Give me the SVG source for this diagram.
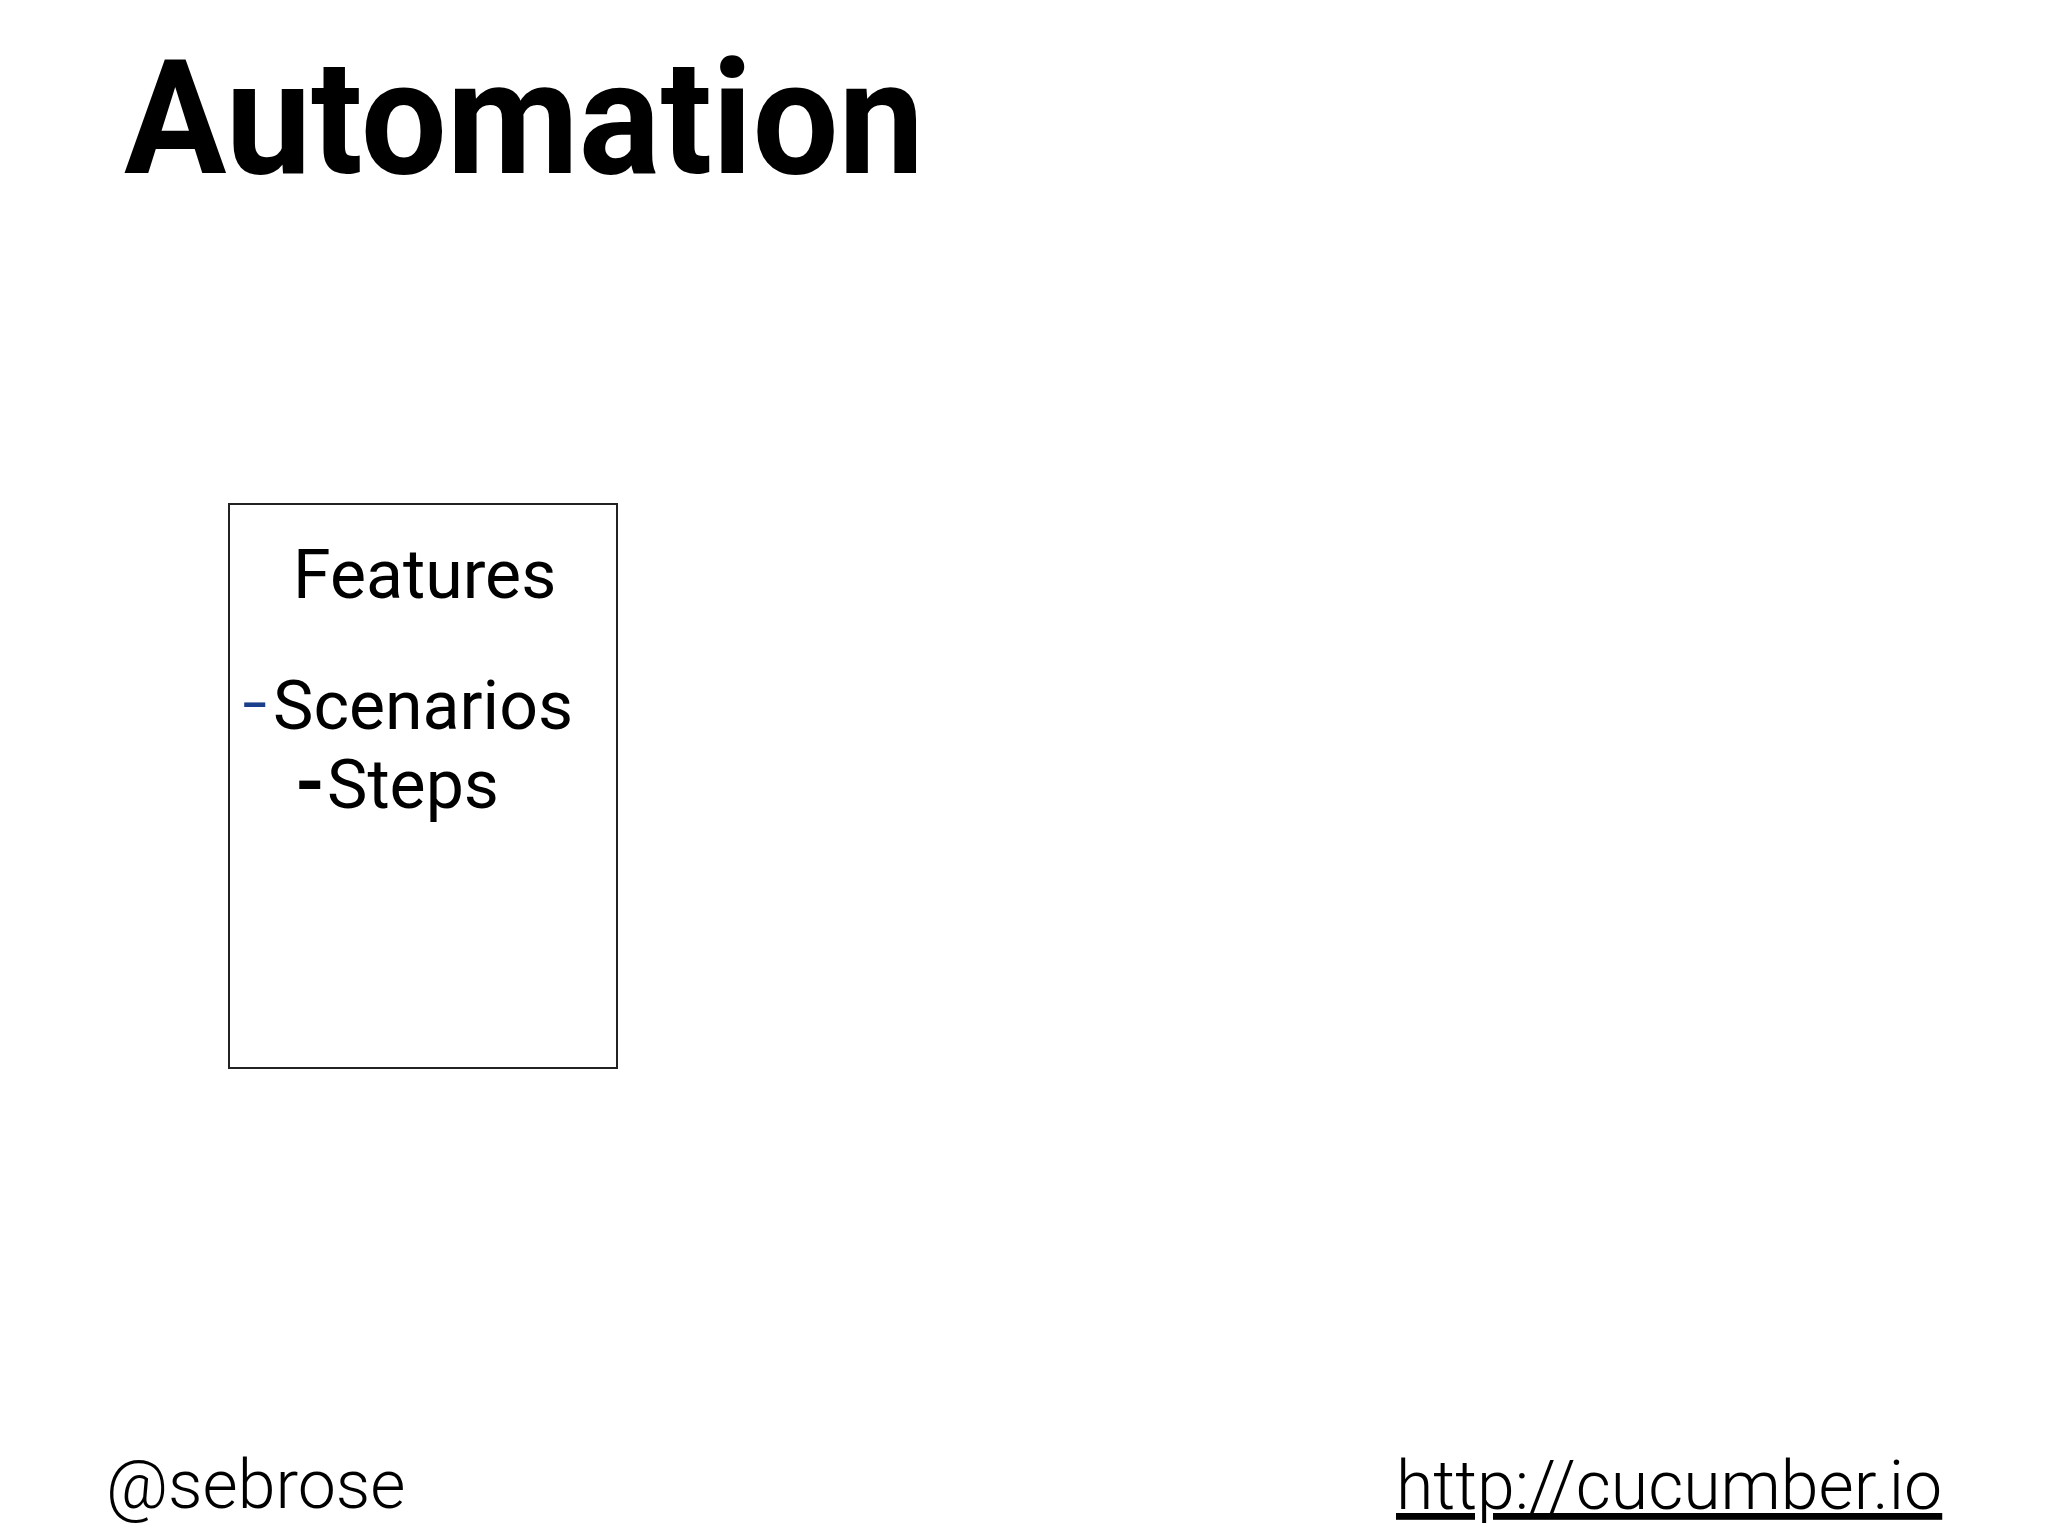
<svg xmlns="http://www.w3.org/2000/svg" width="2048" height="1536" viewBox="0 0 2048 1536">
<style>
.title{font-family:Roboto,"Liberation Sans",sans-serif;font-weight:700;font-size:160px;fill:#000}
.body{font-family:Roboto,"Liberation Sans",sans-serif;font-weight:400;font-size:68px;fill:#000}
.foot{font-family:Roboto,"Liberation Sans",sans-serif;font-weight:300;font-size:68px;fill:#000}
</style>
<rect width="2048" height="1536" fill="#fff"/>
<text class="title" x="124" y="173" textLength="800" lengthAdjust="spacingAndGlyphs">Automation</text>
<g id="features-node">
<rect x="229" y="504" width="388" height="564" fill="#fff" stroke="#222" stroke-width="2"/>
<text class="body" x="293" y="598">Features</text>
<text class="body" x="242" y="733"><tspan fill="#1c3f8c" font-weight="300" font-size="90">-</tspan><tspan x="273" y="729">Scenarios</tspan></text>
<text class="body" x="295" y="808"><tspan font-weight="700" font-size="76">-</tspan><tspan x="327">Steps</tspan></text>
</g>
<g id="connectors"/>
<text class="foot" x="106" y="1508">@sebrose</text>
<text class="foot" x="1396" y="1509" text-decoration="underline">http://cucumber.io</text>
</svg>
